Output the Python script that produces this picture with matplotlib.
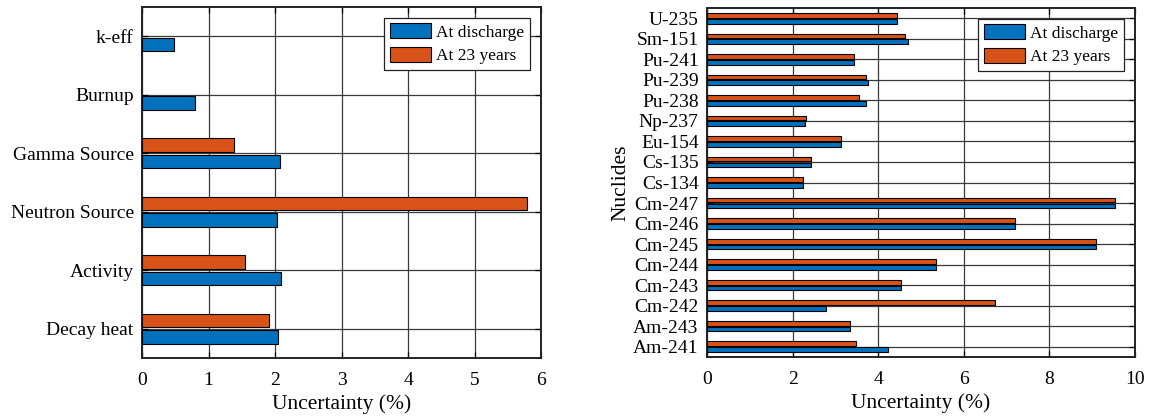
import numpy as np
import matplotlib
matplotlib.use("Agg")
import matplotlib.pyplot as plt

plt.rcParams["font.family"] = ["Liberation Serif", "DejaVu Serif"]

# Integral quantities (left panel), listed bottom to top
quantities = ["Decay heat", "Activity", "Neutron Source", "Gamma Source", "Burnup", "k-eff"]
q_discharge = [2.05, 2.09, 2.03, 2.08, 0.80, 0.485]
q_23years = [1.91, 1.55, 5.79, 1.38, np.nan, np.nan]

# Nuclide concentrations (right panel), listed bottom to top
nuclides = ["Am-241", "Am-243", "Cm-242", "Cm-243", "Cm-244", "Cm-245", "Cm-246",
            "Cm-247", "Cs-134", "Cs-135", "Eu-154", "Np-237", "Pu-238", "Pu-239",
            "Pu-241", "Sm-151", "U-235"]
n_discharge = [4.23, 3.35, 2.79, 4.54, 5.36, 9.10, 7.20, 9.54, 2.24, 2.44, 3.13,
               2.28, 3.71, 3.77, 3.43, 4.70, 4.44]
n_23years = [3.47, 3.35, 6.72, 4.54, 5.36, 9.10, 7.20, 9.54, 2.24, 2.44, 3.13,
             2.32, 3.56, 3.72, 3.43, 4.62, 4.44]

BLUE = "#0072BD"
ORANGE = "#D95319"
W, H = 1151, 417


def grouped_barh(ax, labels, v1, v2, xmax, xstep, ylabel=None):
    y = np.arange(1, len(labels) + 1)
    off, h = 0.143, 0.229
    v1 = np.asarray(v1, float)
    v2 = np.asarray(v2, float)
    m1, m2 = ~np.isnan(v1), ~np.isnan(v2)
    ax.barh(y[m1] - off, v1[m1], height=h, color=BLUE, edgecolor="black",
            linewidth=0.8, label="At discharge", zorder=3)
    ax.barh(y[m2] + off, v2[m2], height=h, color=ORANGE, edgecolor="black",
            linewidth=0.8, label="At 23 years", zorder=3)
    ax.set_yticks(y)
    ax.set_yticklabels(labels)
    ax.set_ylim(0.5, len(labels) + 0.5)
    ax.set_xlim(0, xmax)
    ax.set_xticks(np.arange(0, xmax + 0.01, xstep))
    ax.grid(True, color="#3a3a3a", linewidth=0.9, zorder=0)
    ax.set_axisbelow(True)
    ax.tick_params(direction="in", top=True, right=True, labelsize=14,
                   length=4, width=0.9)
    ax.tick_params(axis="y", pad=6)
    ax.tick_params(axis="x", pad=10)
    for s in ax.spines.values():
        s.set_linewidth(1.4)
        s.set_color("#222222")
    ax.set_xlabel("Uncertainty (%)", fontsize=15.5, labelpad=4)
    if ylabel:
        ax.set_ylabel(ylabel, fontsize=15.5, labelpad=2)
    leg = ax.legend(loc="upper right", fontsize=12.5, fancybox=False,
                    framealpha=1, edgecolor="#222222", handlelength=2.4,
                    handleheight=0.95, handletextpad=0.3, borderpad=0.3,
                    labelspacing=0.35, borderaxespad=0.65)
    leg.get_frame().set_linewidth(0.9)
    for p in leg.get_patches():
        p.set_edgecolor("black")


fig = plt.figure(figsize=(W / 100, H / 100), dpi=100)
ax1 = fig.add_axes([142 / W, (H - 358) / H, (541 - 142) / W, (358 - 7) / H])
ax2 = fig.add_axes([707 / W, (H - 357) / H, (1135 - 707) / W, (357 - 8) / H])

grouped_barh(ax1, quantities, q_discharge, q_23years, 6, 1)
grouped_barh(ax2, nuclides, n_discharge, n_23years, 10, 2, ylabel="Nuclides")

fig.savefig("out.png", dpi=100)
